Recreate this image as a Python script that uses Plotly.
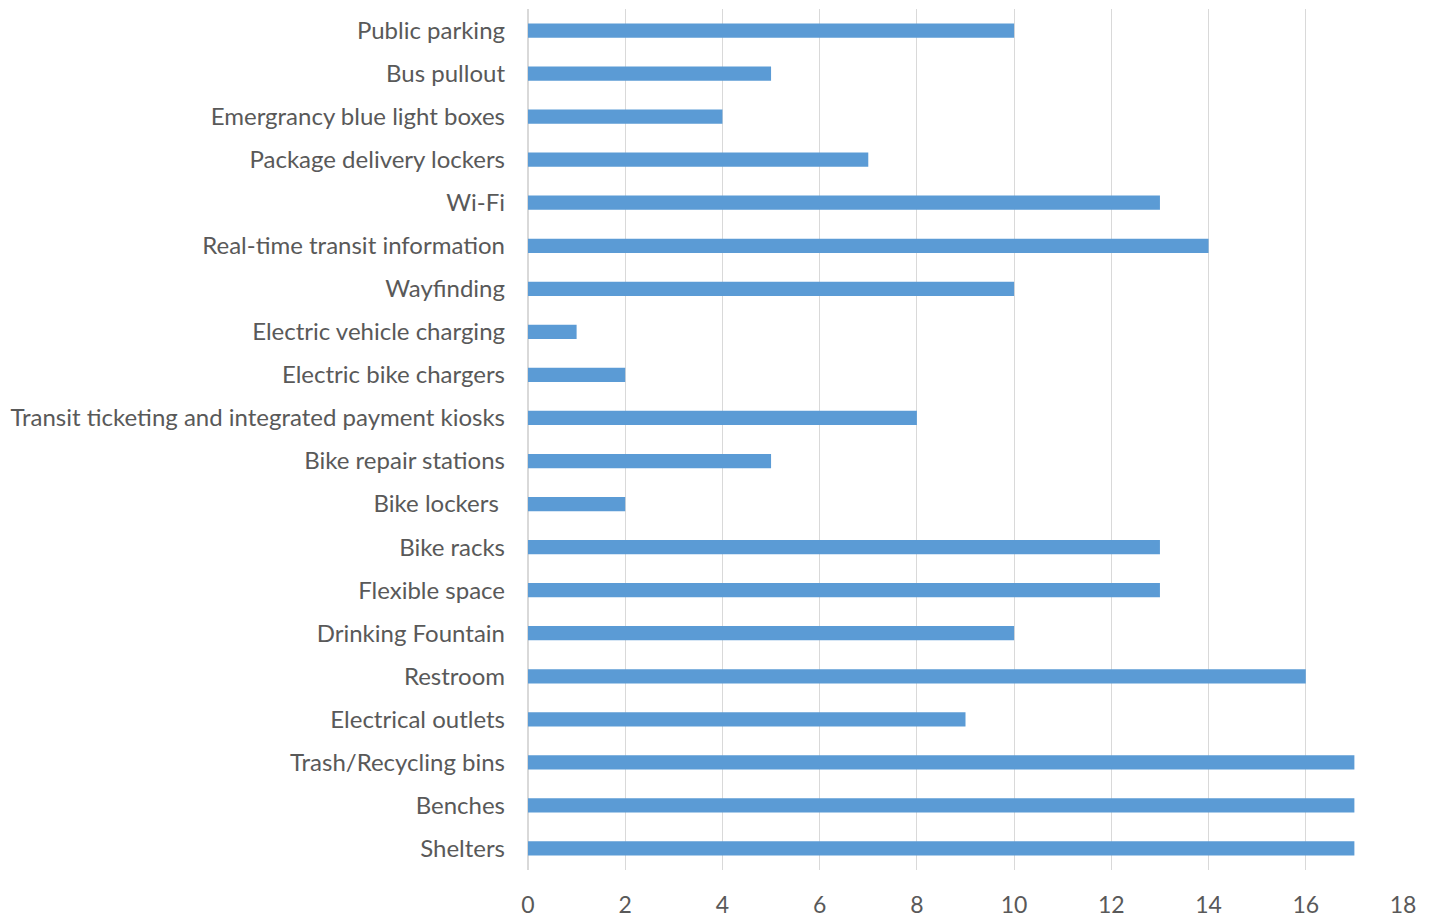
import plotly.graph_objects as go

# Amenities listed top to bottom
amenities = [
    "Public parking",
    "Bus pullout",
    "Emergrancy blue light boxes",
    "Package delivery lockers",
    "Wi-Fi",
    "Real-time transit information",
    "Wayfinding",
    "Electric vehicle charging",
    "Electric bike chargers",
    "Transit ticketing and integrated payment kiosks",
    "Bike repair stations",
    "Bike lockers\u00a0",
    "Bike racks",
    "Flexible space",
    "Drinking Fountain",
    "Restroom",
    "Electrical outlets",
    "Trash/Recycling bins",
    "Benches",
    "Shelters",
]
counts = [10, 5, 4, 7, 13, 14, 10, 1, 2, 8, 5, 2, 13, 13, 10, 16, 9, 17, 17, 17]

x_ticks = [0, 2, 4, 6, 8, 10, 12, 14, 16, 18]

fig = go.Figure(
    go.Bar(
        x=counts,
        y=amenities,
        orientation="h",
        marker=dict(color="#5B9BD5", line=dict(width=0)),
    )
)

font_family = "Lato, Carlito, 'Open Sans', sans-serif"

fig.update_layout(
    width=1430,
    height=919,
    margin=dict(l=528, r=27, t=9, b=49),
    plot_bgcolor="white",
    paper_bgcolor="white",
    bargap=0.67,
    showlegend=False,
    font=dict(family=font_family, size=24, color="#595959"),
)

fig.update_xaxes(
    range=[0, 18],
    tickvals=x_ticks,
    ticktext=[str(v) for v in x_ticks],
    showgrid=True,
    gridcolor="#D9D9D9",
    gridwidth=1,
    zeroline=True,
    zerolinecolor="#D9D9D9",
    showline=False,
    ticks="",
    ticklabelstandoff=19,
    automargin=False,
    tickfont=dict(size=23, color="#595959"),
)

fig.update_yaxes(
    categoryorder="array",
    categoryarray=list(reversed(amenities)),
    showgrid=False,
    showline=False,
    ticks="",
    ticklabelstandoff=22,
    automargin=False,
    tickfont=dict(size=24, color="#595959"),
)

fig.write_html("out.html")
